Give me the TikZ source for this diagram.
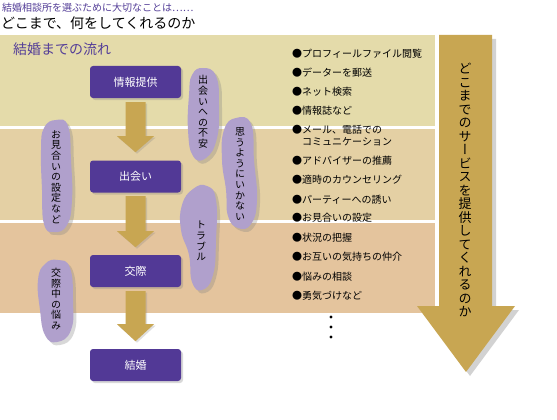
\documentclass[tikz,border=0pt]{standalone}
\usepackage{fontspec}
\setmainfont{Noto Sans CJK JP}
\newfontfamily\jpv{Noto Sans CJK JP}[RawFeature=+vert]
\usetikzlibrary{calc,shadows}
\definecolor{bandA}{RGB}{228,219,170}
\definecolor{bandB}{RGB}{228,208,164}
\definecolor{bandC}{RGB}{228,196,157}
\definecolor{boxpurple}{RGB}{82,57,150}
\definecolor{titlepurple}{RGB}{84,62,152}
\definecolor{arrowgold}{RGB}{200,166,82}
\definecolor{blobcol}{RGB}{176,160,204}
\begin{document}
\begin{tikzpicture}[x=1pt,y=-1pt,
  stage/.style={fill=boxpurple, rounded corners=3pt, minimum width=91pt, minimum height=32pt,
    text=white, font=\fontsize{11}{13}\selectfont, inner sep=0,
    drop shadow={shadow xshift=2pt, shadow yshift=-2pt, opacity=0.3}},
  bubble/.style={fill=blobcol, drop shadow={shadow xshift=3pt, shadow yshift=-3pt, opacity=0.3}},
  vtext/.style={align=center, inner sep=0, font=\jpv\fontsize{10}{10.6}\selectfont},
  item/.style={anchor=west, inner sep=0, font=\fontsize{10}{12}\selectfont},
  flowarrow/.style={fill=arrowgold, drop shadow={shadow xshift=1.5pt, shadow yshift=-1.5pt, opacity=0.25}},
  bigarrow/.style={fill=arrowgold, drop shadow={shadow xshift=4pt, shadow yshift=-4pt, opacity=0.35}}]
\useasboundingbox (0,0) rectangle (557,420);
\fill[white] (0,0) rectangle (557,420);
% headings
\node[anchor=west, inner sep=0, text=titlepurple, font=\fontsize{10}{12}\selectfont] (sub) at (2,8) {結婚相談所を選ぶために大切なことは……};
\node[anchor=west, inner sep=0, font=\fontsize{14}{16}\selectfont] (head) at (1,23) {どこまで、何をしてくれるのか};
% bands
\fill[bandA] (0,35) rectangle (435,126);
\fill[bandB] (0,129) rectangle (435,220);
\fill[bandC] (0,223) rectangle (435,313);
\node[anchor=west, inner sep=0, text=titlepurple, font=\fontsize{14}{16}\selectfont] (flow) at (13,49) {結婚までの流れ};
% big arrow
\fill[bigarrow] (439,35) -- (492,35) -- (492,306) -- (515,306) -- (466,372) -- (417,306) -- (439,306) -- cycle;
\node[align=center, inner sep=0, font=\jpv\fontsize{13}{13.5}\selectfont] (svc) at (465,190)
  {ど\\こ\\ま\\で\\の\\サ\\ー\\ビ\\ス\\を\\提\\供\\し\\て\\く\\れ\\る\\の\\か};
% stage boxes
\node[stage] (b1) at (135.5,82) {情報提供};
\node[stage] (b2) at (135.5,176.5) {出会い};
\node[stage] (b3) at (135.5,271) {交際};
\node[stage] (b4) at (135.5,365) {結婚};
% flow arrows
\fill[flowarrow] ($(b1.south)+(-10,4)$) -- ++(20,0) -- ++(0,34) -- ++(8.5,0) -- ++(-18.5,16) -- ++(-18.5,-16) -- ++(8.5,0) -- cycle;
\fill[flowarrow] ($(b2.south)+(-10,3.5)$) -- ++(20,0) -- ++(0,35) -- ++(8.5,0) -- ++(-18.5,16) -- ++(-18.5,-16) -- ++(8.5,0) -- cycle;
\fill[flowarrow] ($(b3.south)+(-10,4)$) -- ++(20,0) -- ++(0,33) -- ++(8.5,0) -- ++(-18.5,17) -- ++(-18.5,-17) -- ++(8.5,0) -- cycle;
% bubbles
\fill[bubble] plot[smooth cycle, tension=0.8] coordinates {(203,68) (216,76) (219,105) (217,138) (206,158) (193,156) (188,130) (189,95) (192,75)};
\node[vtext] (t1) at (203,112) {出\\会\\い\\へ\\の\\不\\安};
\fill[bubble] plot[smooth cycle, tension=0.8] coordinates {(236,118) (251,124) (254,160) (257,200) (251,224) (238,228) (228,216) (226,190) (222,160) (224,130)};
\node[vtext] (t2) at (240,174) {思\\う\\よ\\う\\に\\い\\か\\な\\い};
\fill[bubble] plot[smooth cycle, tension=0.8] coordinates {(56,120) (68,126) (71,160) (72,200) (67,225) (54,232) (44,224) (42,190) (41,150) (44,128)};
\node[vtext] (t3) at (56,177) {お\\見\\合\\い\\の\\設\\定\\な\\ど};
\fill[bubble] plot[smooth cycle, tension=0.8] coordinates {(207,186) (216,200) (216,240) (213,275) (202,290) (192,282) (189,255) (181,230) (182,205) (193,189)};
\node[vtext] (t4) at (201,241) {ト\\ラ\\ブ\\ル};
\fill[bubble] plot[smooth cycle, tension=0.8] coordinates {(58,260) (70,268) (73,300) (71,330) (57,342) (45,335) (40,310) (38,280) (45,264)};
\node[vtext] (t5) at (56,299) {交\\際\\中\\の\\悩\\み};
% list
\node[item] (l1) at (292,54) {●プロフィールファイル閲覧};
\node[item] (l2) at (292,73) {●データーを郵送};
\node[item] (l3) at (292,92) {●ネット検索};
\node[item] (l4) at (292,111) {●情報誌など};
\node[item] (l5) at (292,130) {●メール、電話での};
\node[item] (l5b) at (302,142) {コミュニケーション};
\node[item] (l6) at (292,161) {●アドバイザーの推薦};
\node[item] (l7) at (292,180) {●適時のカウンセリング};
\node[item] (l8) at (292,200) {●パーティーへの誘い};
\node[item] (l9) at (292,218) {●お見合いの設定};
\node[item] (l10) at (292,238) {●状況の把握};
\node[item] (l11) at (292,257) {●お互いの気持ちの仲介};
\node[item] (l12) at (292,277) {●悩みの相談};
\node[item] (l13) at (292,296) {●勇気づけなど};
\fill (331,317) circle (1.6) (331,327) circle (1.6) (331,337) circle (1.6);
\end{tikzpicture}
\end{document}
